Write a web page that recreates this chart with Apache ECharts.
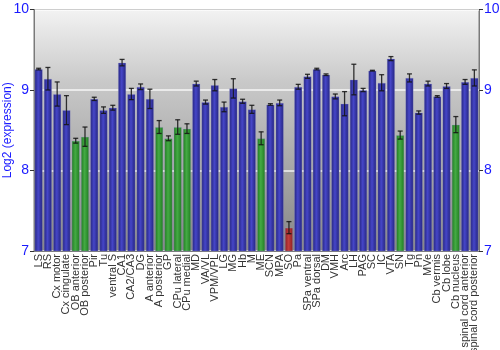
<!DOCTYPE html>
<html>
<head>
<meta charset="utf-8">
<script src="https://cdn.jsdelivr.net/npm/echarts@6/dist/echarts.min.js"></script>
<style>
  html, body { margin: 0; padding: 0; background: #ffffff; }
  #chart { width: 500px; height: 350px; }
</style>
</head>
<body>
<div id="chart"></div>
<script>
// Brain regions along the x axis
const regions = [
  'LS', 'RS', 'Cx motor', 'Cx cingulate', 'OB anterior', 'OB posterior', 'Pir', 'Tu',
  'ventral S', 'CA1', 'CA2/CA3', 'DG', 'A anterior', 'A posterior', 'GP', 'CPu lateral',
  'CPu medial', 'MD', 'VA/VL', 'VPM/VPL', 'LG', 'MG', 'Hb', 'M', 'ME', 'SCN', 'MPA', 'SO',
  'Pa', 'SPa ventral', 'SPa dorsal', 'DM', 'VMH', 'Arc', 'LH', 'PAG', 'SC', 'IC', 'VTA',
  'SN', 'Tg', 'Pn', 'MVe', 'Cb vermis', 'Cb lobe', 'Cb nucleus',
  'spinal cord anterior', 'spinal cord posterior'
];

// Mean log2 expression per region
const expression = [
  9.26, 9.14, 8.95, 8.75, 8.37, 8.42, 8.89, 8.75,
  8.78, 9.34, 8.95, 9.04, 8.89, 8.54, 8.40, 8.54,
  8.52, 9.08, 8.85, 9.06, 8.79, 9.02, 8.86, 8.76, 8.40, 8.82, 8.84, 7.29,
  9.04, 9.17, 9.26, 9.19, 8.92, 8.83, 9.13, 9.00, 9.24, 9.09, 9.39,
  8.44, 9.15, 8.72, 9.08, 8.92, 9.05, 8.57,
  9.10, 9.15
];

// Standard error per region
const stdError = [
  0.01, 0.14, 0.15, 0.18, 0.03, 0.12, 0.02, 0.04,
  0.03, 0.04, 0.07, 0.035, 0.12, 0.08, 0.03, 0.09,
  0.06, 0.03, 0.025, 0.07, 0.06, 0.12, 0.025, 0.05, 0.08, 0.01, 0.035, 0.075,
  0.03, 0.025, 0.01, 0.01, 0.03, 0.15, 0.19, 0.02, 0.005, 0.10, 0.025,
  0.05, 0.05, 0.02, 0.03, 0.01, 0.03, 0.10,
  0.03, 0.10
];

// Colour class per region: 0 = normal, 1 = low (green), 2 = lowest (red)
const colourClass = [
  0, 0, 0, 0, 1, 1, 0, 0,
  0, 0, 0, 0, 0, 1, 1, 1,
  1, 0, 0, 0, 0, 0, 0, 0, 1, 0, 0, 2,
  0, 0, 0, 0, 0, 0, 0, 0, 0, 0, 0,
  1, 0, 0, 0, 0, 0, 1,
  0, 0
];

// Y axis ticks
const yTicks = [7, 8, 9, 10];

function barGradient(edge, mid) {
  return new echarts.graphic.LinearGradient(0, 0, 1, 0, [
    { offset: 0, color: edge },
    { offset: 0.45, color: mid },
    { offset: 1, color: edge }
  ]);
}

const palette = [
  barGradient('#23237c', '#4646c8'),
  barGradient('#1f7a1f', '#44aa44'),
  barGradient('#8a2020', '#c23c3c')
];

const chart = echarts.init(document.getElementById('chart'), null, { renderer: 'canvas' });

const barData = expression.map((v, i) => ({
  value: v,
  itemStyle: { color: palette[colourClass[i]] }
}));

const errData = expression.map((v, i) => [i, v - stdError[i], v + stdError[i]]);

const yMin = yTicks[0];
const yMax = yTicks[yTicks.length - 1];

const yAxisCommon = {
  type: 'value',
  min: yMin,
  max: yMax,
  interval: 1,
  axisLine: { show: true, lineStyle: { color: '#7a7a7a', width: 1 } },
  axisTick: { show: true, length: 4, lineStyle: { color: '#333333' } },
  axisLabel: { color: '#1a1aff', fontSize: 14, fontFamily: 'Liberation Sans, Arial, sans-serif', margin: 5 },
  splitLine: { show: false }
};

chart.setOption({
  animation: false,
  grid: {
    left: 34, right: 21, top: 9.5, bottom: 99,
    outerBoundsMode: 'none',
    containLabel: false,
    show: true,
    borderColor: '#7a7a7a',
    borderWidth: 1,
    backgroundColor: new echarts.graphic.LinearGradient(0, 0, 0, 1, [
      { offset: 0, color: '#f3f3f3' },
      { offset: 0.3, color: '#c9c9c9' },
      { offset: 1, color: '#868686' }
    ])
  },
  xAxis: {
    type: 'category',
    data: regions,
    axisLine: { show: true, lineStyle: { color: '#7a7a7a' } },
    axisTick: { show: false },
    axisLabel: {
      interval: 0,
      rotate: 90,
      margin: 3,
      fontSize: 11,
      color: '#333333',
      fontFamily: 'Liberation Sans, Arial, sans-serif'
    }
  },
  yAxis: [
    Object.assign({}, yAxisCommon, {
      position: 'left',
      name: 'Log2 (expression)',
      nameLocation: 'middle',
      nameGap: 20,
      nameMoveOverlap: false,
      nameTextStyle: { color: '#1a1aff', fontSize: 12, fontFamily: 'Liberation Sans, Arial, sans-serif' },
      splitLine: { show: true, lineStyle: { color: 'rgba(255,255,255,0.85)', width: 1.5 } }
    }),
    Object.assign({}, yAxisCommon, { position: 'right' })
  ],
  series: [
    {
      type: 'bar',
      data: barData,
      barCategoryGap: '12%',
      itemStyle: { borderColor: 'rgba(150,150,210,0.35)', borderWidth: 0.8 },
      z: 2
    },
    {
      type: 'custom',
      data: errData,
      z: 3,
      renderItem: function (params, api) {
        const x = api.value(0);
        const lo = api.coord([x, api.value(1)]);
        const hi = api.coord([x, api.value(2)]);
        const half = 2.5;
        const style = { stroke: 'rgba(20,20,20,0.85)', lineWidth: 1.3 };
        return {
          type: 'group',
          children: [
            { type: 'line', shape: { x1: lo[0], y1: lo[1], x2: hi[0], y2: hi[1] }, style: style },
            { type: 'line', shape: { x1: lo[0] - half, y1: lo[1], x2: lo[0] + half, y2: lo[1] }, style: style },
            { type: 'line', shape: { x1: hi[0] - half, y1: hi[1], x2: hi[0] + half, y2: hi[1] }, style: style }
          ]
        };
      }
    }
  ]
});
</script>
</body>
</html>
